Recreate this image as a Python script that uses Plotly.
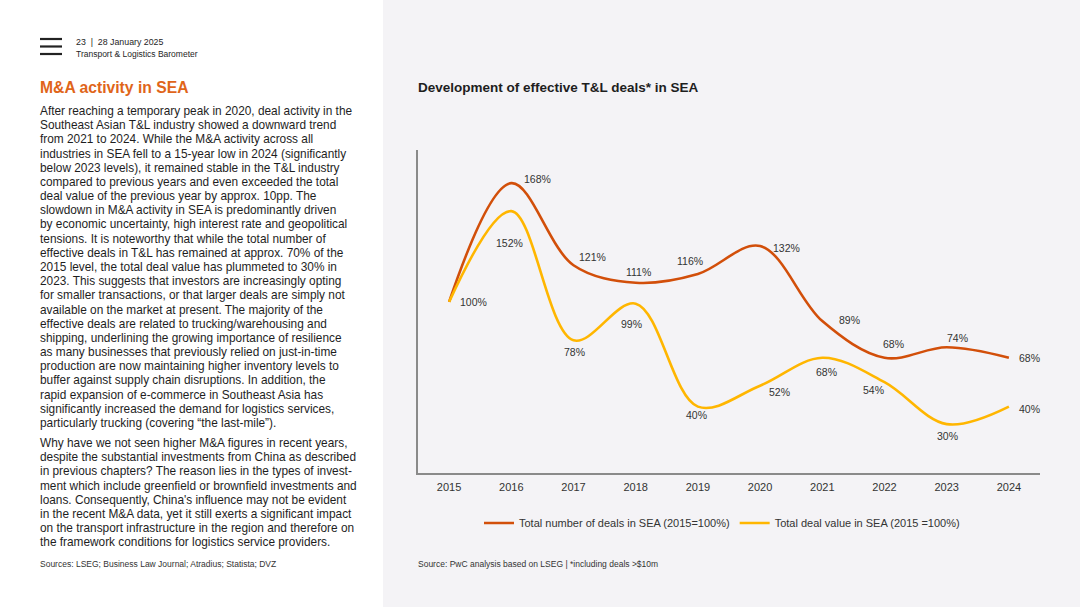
import plotly.graph_objects as go

# ---------------- data ----------------
years = ["2015", "2016", "2017", "2018", "2019", "2020", "2021", "2022", "2023", "2024"]
deals_number = [100, 168, 121, 111, 116, 132, 89, 68, 74, 68]
deals_value = [100, 152, 78, 99, 40, 52, 68, 54, 30, 40]
series_names = ["Total number of deals in SEA (2015=100%)", "Total deal value in SEA (2015 =100%)"]

# label offsets (pixels) for data labels  (None = no label)
number_label_shift = [(24, 0), (26, 4), (19, 8), (3, 11), (-8, 13), (26, -2), (27, 1), (9, 14), (11, 9), (21, 0)]
value_label_shift = [None, (-2, -32), (1, -12), (-4, -20), (-1, -8), (19, -6), (4, -14), (-11, -8), (1, -12), (21, -2)]

ORANGE = "#D24F0A"
YELLOW = "#FFB600"
TEXT = "#1E1E1E"
FONT = "Liberation Sans, Arial, sans-serif"

W, H = 1080, 607


def px(x):
    return x / W


def py(y):
    return 1 - y / H


fig = go.Figure()
fig.add_trace(go.Scatter(x=years, y=deals_number, mode="lines", name=series_names[0],
                         line=dict(color=ORANGE, width=2.6, shape="spline", smoothing=1)))
fig.add_trace(go.Scatter(x=years, y=deals_value, mode="lines", name=series_names[1],
                         line=dict(color=YELLOW, width=2.6, shape="spline", smoothing=1)))

annotations = []
for i, (v, sh) in enumerate(zip(deals_number, number_label_shift)):
    if sh is None:
        continue
    annotations.append(dict(x=i, y=v, xref="x", yref="y", text=f"{v}%", showarrow=False,
                            xshift=sh[0], yshift=sh[1], font=dict(family=FONT, size=10.5, color="#333333")))
for i, (v, sh) in enumerate(zip(deals_value, value_label_shift)):
    if sh is None:
        continue
    annotations.append(dict(x=i, y=v, xref="x", yref="y", text=f"{v}%", showarrow=False,
                            xshift=sh[0], yshift=sh[1], font=dict(family=FONT, size=10.5, color="#333333")))


def txt(x, y, s, size, color=TEXT, bold=False):
    if bold:
        s = f"<b>{s}</b>"
    annotations.append(dict(x=px(x), y=py(y), xref="paper", yref="paper", text=s, showarrow=False,
                            xanchor="left", yanchor="middle", align="left",
                            font=dict(family=FONT, size=size, color=color)))


# header
txt(74, 42, "23  |  28 January 2025", 8.8)
txt(74, 54, "Transport &amp; Logistics Barometer", 8.5)
txt(38, 88, "M&amp;A activity in SEA", 15.7, color="#E0651A", bold=True)

para1 = [
    "After reaching a temporary peak in 2020, deal activity in the",
    "Southeast Asian T&amp;L industry showed a downward trend",
    "from 2021 to 2024. While the M&amp;A activity across all",
    "industries in SEA fell to a 15-year low in 2024 (significantly",
    "below 2023 levels), it remained stable in the T&amp;L industry",
    "compared to previous years and even exceeded the total",
    "deal value of the previous year by approx. 10pp. The",
    "slowdown in M&amp;A activity in SEA is predominantly driven",
    "by economic uncertainty, high interest rate and geopolitical",
    "tensions. It is noteworthy that while the total number of",
    "effective deals in T&amp;L has remained at approx. 70% of the",
    "2015 level, the total deal value has plummeted to 30% in",
    "2023. This suggests that investors are increasingly opting",
    "for smaller transactions, or that larger deals are simply not",
    "available on the market at present. The majority of the",
    "effective deals are related to trucking/warehousing and",
    "shipping, underlining the growing importance of resilience",
    "as many businesses that previously relied on just-in-time",
    "production are now maintaining higher inventory levels to",
    "buffer against supply chain disruptions. In addition, the",
    "rapid expansion of e-commerce in Southeast Asia has",
    "significantly increased the demand for logistics services,",
    "particularly trucking (covering \u201cthe last-mile\u201d).",
]
para2 = [
    "Why have we not seen higher M&amp;A figures in recent years,",
    "despite the substantial investments from China as described",
    "in previous chapters? The reason lies in the types of invest-",
    "ment which include greenfield or brownfield investments and",
    "loans. Consequently, China's influence may not be evident",
    "in the recent M&amp;A data, yet it still exerts a significant impact",
    "on the transport infrastructure in the region and therefore on",
    "the framework conditions for logistics service providers.",
]
LH = 14.18
for i, line in enumerate(para1):
    txt(38, 111 + i * LH, line, 11.85)
for i, line in enumerate(para2):
    txt(38, 443 + i * LH, line, 11.85)
txt(38, 564, "Sources: LSEG; Business Law Journal; Atradius; Statista; DVZ", 8.5, color="#333333")

# chart title / source
txt(416, 87, "Development of effective T&amp;L deals* in SEA", 13.5, bold=True)
txt(416, 564, "Source: PwC analysis based on LSEG | *including deals &gt;$10m", 8.5, color="#333333")

shapes = [
    dict(type="rect", xref="paper", yref="paper", x0=px(383), x1=1, y0=0, y1=1,
         fillcolor="#F4F3F6", line=dict(width=0), layer="below"),
]
for yy in (39, 46.5, 54):
    shapes.append(dict(type="line", xref="paper", yref="paper", x0=px(40), x1=px(62), y0=py(yy), y1=py(yy),
                       line=dict(color="#222222", width=2.2)))

fig.update_layout(
    width=W, height=H, autosize=False,
    margin=dict(l=0, r=0, t=0, b=0),
    paper_bgcolor="white", plot_bgcolor="rgba(0,0,0,0)",
    font=dict(family=FONT, color=TEXT),
    showlegend=True,
    legend=dict(orientation="h", x=px(722), xanchor="center", y=py(523), yanchor="middle",
                bgcolor="rgba(0,0,0,0)", font=dict(family=FONT, size=11, color="#333333"),
                itemwidth=30, tracegroupgap=0),
    xaxis=dict(domain=[px(418), px(1040)], type="category", range=[-0.5, 9.5],
               showline=True, linecolor="#8A8A8A", linewidth=1.5, showgrid=False, zeroline=False,
               ticks="outside", ticklen=3, tickcolor="rgba(0,0,0,0)",
               tickfont=dict(family=FONT, size=11, color="#333333")),
    yaxis=dict(domain=[py(473), py(150)], range=[2, 187], showline=True, linecolor="#8A8A8A", linewidth=1.5,
               showgrid=False, zeroline=False, showticklabels=False, ticks=""),
    annotations=annotations,
    shapes=shapes,
)

fig.write_html("out.html", config={"displayModeBar": False},
               post_script="document.body.style.margin='0';document.body.style.overflow='hidden';")
